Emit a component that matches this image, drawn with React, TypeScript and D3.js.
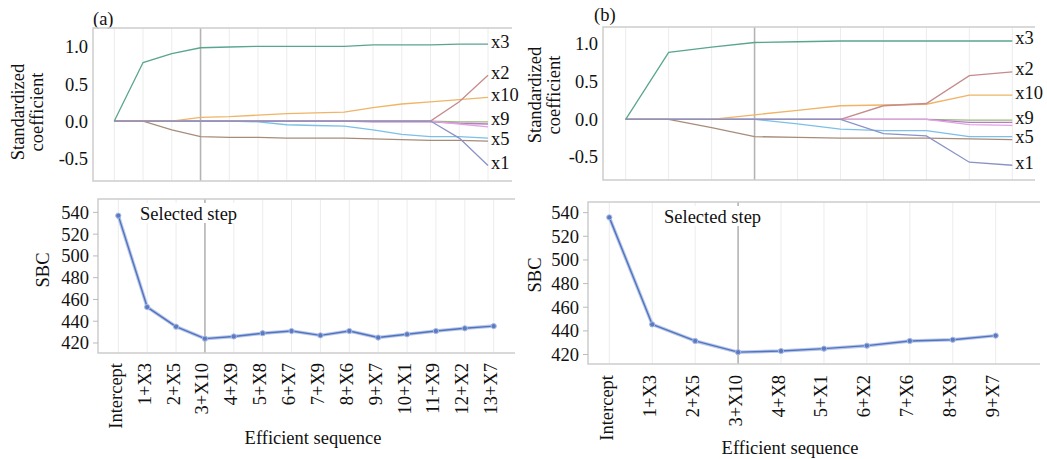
import React from 'react'
import { scaleLinear, scalePoint, line } from 'd3'

// step labels
const stepsA = ['Intercept', '1+X3', '2+X5', '3+X10', '4+X9', '5+X8', '6+X7', '7+X9', '8+X6', '9+X7', '10+X1', '11+X9', '12+X2', '13+X7']
const stepsB = ['Intercept', '1+X3', '2+X5', '3+X10', '4+X8', '5+X1', '6+X2', '7+X6', '8+X9', '9+X7']

// SBC per step
const sbcA = [537, 453, 435, 424, 426, 429, 431, 427, 431, 425, 428, 431, 433.5, 435.5]
const sbcB = [536, 445.5, 431.5, 422, 423, 425, 427.5, 431.5, 432.5, 436]

// standardized coefficients, panel (a)
const x3A = [0, 0.79, 0.91, 0.99, 1.0, 1.01, 1.01, 1.01, 1.01, 1.03, 1.03, 1.03, 1.04, 1.04]
const x10A = [0, 0, 0, 0.05, 0.06, 0.08, 0.1, 0.11, 0.12, 0.18, 0.23, 0.26, 0.29, 0.32]
const x5A = [0, 0, -0.12, -0.21, -0.22, -0.22, -0.23, -0.23, -0.23, -0.24, -0.25, -0.26, -0.26, -0.27]
const x8A = [0, 0, 0, 0, 0, -0.01, -0.05, -0.06, -0.07, -0.12, -0.18, -0.21, -0.21, -0.23]
const x2A = [0, 0, 0, 0, 0, 0, 0, 0, 0, 0, 0, 0, 0.26, 0.62]
const x1A = [0, 0, 0, 0, 0, 0, 0, 0, 0, 0, 0, 0, -0.23, -0.6]
const x9A = [0, 0, 0, 0, 0, 0, 0, 0, 0, 0, 0, 0, -0.01, -0.01]
const x7A = [0, 0, 0, 0, 0, 0, 0, 0, 0, -0.01, -0.01, -0.01, -0.03, -0.04]
const x6A = [0, 0, 0, 0, 0, 0, 0, 0, 0, 0, 0, 0, -0.04, -0.08]

// standardized coefficients, panel (b)
const x3B = [0, 0.89, 0.96, 1.02, 1.03, 1.04, 1.04, 1.04, 1.04, 1.04]
const x10B = [0, 0, 0, 0.06, 0.12, 0.18, 0.19, 0.2, 0.32, 0.32]
const x5B = [0, 0, -0.11, -0.23, -0.24, -0.25, -0.25, -0.25, -0.26, -0.27]
const x8B = [0, 0, 0, 0, -0.06, -0.13, -0.15, -0.15, -0.23, -0.23]
const x2B = [0, 0, 0, 0, 0, 0, 0.18, 0.21, 0.58, 0.63]
const x1B = [0, 0, 0, 0, 0, 0, -0.19, -0.22, -0.57, -0.61]
const x9B = [0, 0, 0, 0, 0, 0, 0, 0, -0.01, -0.01]
const x7B = [0, 0, 0, 0, 0, 0, 0, 0, -0.04, -0.04]
const x6B = [0, 0, 0, 0, 0, 0, 0, 0, -0.07, -0.08]

const coefTicks = [-0.5, 0, 0.5, 1.0]
const sbcTicks = [420, 440, 460, 480, 500, 520, 540]
const labelled = ['x3', 'x2', 'x10', 'x9', 'x5', 'x1']
const selectedStep = 3

const colors = {
  x3: '#5aa590', x10: '#efb466', x5: '#a88c7a', x8: '#7cbfe9', x2: '#c68b8b',
  x1: '#8a93c6', x9: '#9bba7c', x7: '#b77ac9', x6: '#e0a2e2',
}

const seriesA = { x9: x9A, x7: x7A, x6: x6A, x8: x8A, x5: x5A, x10: x10A, x2: x2A, x1: x1A, x3: x3A }
const seriesB = { x9: x9B, x7: x7B, x6: x6B, x8: x8B, x5: x5B, x10: x10B, x2: x2B, x1: x1B, x3: x3B }

const txt = { fontFamily: "'Liberation Serif', 'DejaVu Serif', serif", fontSize: '18.5px', fill: '#111' }

function CoefPanel({ steps, series, L, tag }) {
  const x = scalePoint().domain(steps).range([L.x0, L.x1])
  const y = scaleLinear().domain(L.yDomain).range([L.bottom, L.top])
  const path = line().x((d, i) => x(steps[i])).y(d => y(d))

  // end labels, nudged apart so they don't collide
  const ends = labelled.map(k => ({ k, y: y(series[k][series[k].length - 1]) - 3 })).sort((a, b) => a.y - b.y)
  for (let i = 1; i < ends.length; i++) {
    if (ends[i].y < ends[i - 1].y + 14) ends[i].y = ends[i - 1].y + 14
  }

  return (
    <g>
      <text x={L.tagX} y={L.tagY} style={txt}>{tag}</text>
      {steps.map((s, i) => (
        <line key={s} x1={x(s)} x2={x(s)} y1={L.top} y2={L.bottom}
          stroke={i === selectedStep ? '#b4b4b4' : '#ececec'} strokeWidth={i === selectedStep ? 1.6 : 1} />
      ))}
      <path d={`M${L.right},${L.top}H${L.left}V${L.bottom}H${L.right}`} fill="none" stroke="#cdcdcd" strokeWidth={1.5} />
      {coefTicks.map(t => (
        <text key={t} x={L.left - 5} y={y(t)} dy="0.35em" textAnchor="end" style={txt}>
          {t.toFixed(1)}
        </text>
      ))}
      {Object.entries(series).map(([k, v]) => (
        <path key={k} d={path(v)} fill="none" stroke={colors[k]} strokeWidth={1.3} />
      ))}
      {ends.map(e => (
        <text key={e.k} x={L.x1 + 3} y={e.y} dy="0.35em" style={txt}>{e.k}</text>
      ))}
      <text transform={`translate(${L.titleX},${L.titleY}) rotate(-90)`} textAnchor="middle" style={txt}>
        <tspan x={0} dy="0">Standardized</tspan>
        <tspan x={0} dy="1.0em">coefficient</tspan>
      </text>
    </g>
  )
}

function SbcPanel({ steps, values, L }) {
  const x = scalePoint().domain(steps).range([L.x0, L.x1])
  const y = scaleLinear().domain(L.yDomain).range([L.bottom, L.top])
  const path = line().x((d, i) => x(steps[i])).y(d => y(d))

  return (
    <g>
      {steps.map((s, i) => (
        <line key={s} x1={x(s)} x2={x(s)} y1={L.top} y2={L.bottom}
          stroke={i === selectedStep ? '#b4b4b4' : '#ececec'} strokeWidth={i === selectedStep ? 1.6 : 1} />
      ))}
      <rect x={L.selX - 2} y={L.selY - 11} width={104} height={20} fill="#fff" />
      <text x={L.selX} y={L.selY} dy="0.35em" style={txt}>Selected step</text>
      <path d={`M${L.right},${L.top}H${L.left}V${L.bottom}H${L.right}`} fill="none" stroke="#cdcdcd" strokeWidth={1.5} />
      {sbcTicks.map(t => (
        <g key={t}>
          <line x1={L.left - 5} x2={L.left} y1={y(t)} y2={y(t)} stroke="#bbb" />
          <text x={L.left - 9} y={y(t)} dy="0.35em" textAnchor="end" style={txt}>{t}</text>
        </g>
      ))}
      <path d={path(values)} fill="none" stroke="#b9c8ea" strokeWidth={3.5} strokeLinejoin="round" />
      <path d={path(values)} fill="none" stroke="#5273bd" strokeWidth={1.4} strokeLinejoin="round" />
      {values.map((v, i) => (
        <circle key={i} cx={x(steps[i])} cy={y(v)} r={2.6} fill="#5a7bc4" stroke="#a9bbe4" strokeWidth={1} />
      ))}
      {steps.map(s => (
        <text key={s} transform={`translate(${x(s) - 3},${L.labelTop}) rotate(-90)`} dy="0.35em" textAnchor="end"
          style={txt}>{s}</text>
      ))}
      <text transform={`translate(${L.titleX},${L.titleY}) rotate(-90)`} textAnchor="middle" dy="0.35em" style={txt}>SBC</text>
      <text x={L.xTitleX} y={L.xTitleY} dy="0.35em" textAnchor="middle" style={txt}>Efficient sequence</text>
    </g>
  )
}

const topA = { left: 93, top: 28, bottom: 181, right: 512, x0: 114.3, x1: 488, yDomain: [-0.81, 1.257], tagX: 93, tagY: 25, titleX: 24, titleY: 112 }
const topB = { left: 603, top: 27, bottom: 180, right: 1035, x0: 625.7, x1: 1012.3, yDomain: [-0.806, 1.226], tagX: 594, tagY: 21, titleX: 541, titleY: 95 }
const lowA = { left: 98, top: 199, bottom: 353, right: 515, x0: 118.3, x1: 493.7, yDomain: [410.8, 552.3], labelTop: 363, selX: 140, selY: 214, titleX: 43, titleY: 270, xTitleX: 313, xTitleY: 438 }
const lowB = { left: 588, top: 202, bottom: 364, right: 1040, x0: 609.3, x1: 995.7, yDomain: [412, 549], labelTop: 375, selX: 664, selY: 217, titleX: 535, titleY: 275, xTitleX: 790, xTitleY: 448 }

export default function App() {
  return (
    <svg width={1047} height={459} style={{ position: 'absolute', left: 0, top: 0, background: '#fff' }}>
      <CoefPanel steps={stepsA} series={seriesA} L={topA} tag="(a)" />
      <CoefPanel steps={stepsB} series={seriesB} L={topB} tag="(b)" />
      <SbcPanel steps={stepsA} values={sbcA} L={lowA} />
      <SbcPanel steps={stepsB} values={sbcB} L={lowB} />
    </svg>
  )
}
